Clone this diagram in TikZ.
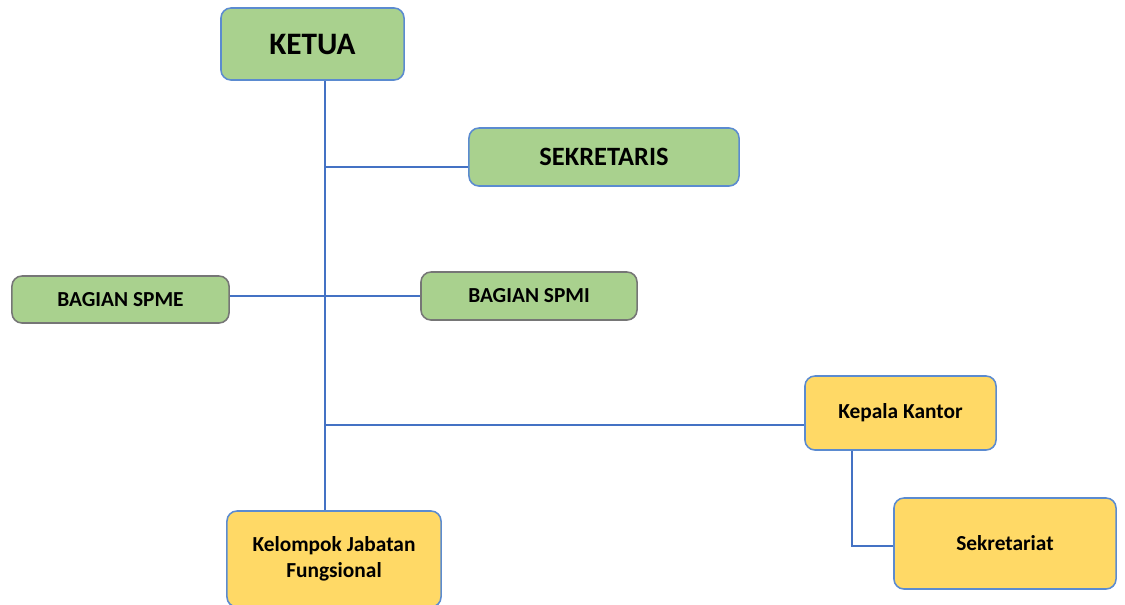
\documentclass[tikz,border=0pt]{standalone}
\usepackage{fontspec}
\setmainfont{Carlito}
\usetikzlibrary{positioning}
\definecolor{boxgreen}{HTML}{A9D18E}
\definecolor{boxyellow}{HTML}{FFD966}
\definecolor{edgeblue}{HTML}{5B8BD0}
\definecolor{linkblue}{HTML}{4472C4}
\definecolor{edgegray}{HTML}{767676}

\begin{document}
\begin{tikzpicture}[x=0.025cm, y=-0.025cm,
    unit/.style={draw=edgeblue, line width=1.1pt, rounded corners=0.25cm, align=center, font=\bfseries\fontsize{15.2}{18.5}\selectfont},
    greenbox/.style={unit, fill=boxgreen},
    graybox/.style={greenbox, draw=edgegray},
    yellowbox/.style={unit, fill=boxyellow},
    link/.style={draw=linkblue, line width=1.4pt}]
        \clip (0,0) rectangle (1125,605);
        \coordinate (tx) at (325,0);
        \node (ketua) [greenbox, minimum width=4.575cm, minimum height=1.8cm, font=\bfseries\fontsize{22.2}{26}\selectfont] at (312.5,44) {KETUA};
        \node (sek) [greenbox, minimum width=6.75cm, minimum height=1.45cm, font=\bfseries\fontsize{18.8}{22}\selectfont] at (604,157) {SEKRETARIS};
        \node (spme) [graybox, minimum width=5.425cm, minimum height=1.175cm] at (120.5,299.5) {BAGIAN SPME};
        \node (spmi) [graybox, minimum width=5.4cm, minimum height=1.2cm] at (529,296) {BAGIAN SPMI};
        \node (kk) [yellowbox, minimum width=4.775cm, minimum height=1.85cm] at (900.5,413) {Kepala Kantor};
        \node (sekr) [yellowbox, minimum width=5.55cm, minimum height=2.275cm] at (1005,543.5) {Sekretariat};
        \node (kjf) [yellowbox, minimum width=5.35cm, minimum height=2.4cm] at (334,559) {Kelompok Jabatan\\Fungsional};
        \draw[link] (ketua.south -| tx) -- (kjf.north -| tx);
        \draw[link] (tx |- 0,167) -- (sek.west |- 0,167);
        \draw[link] (spme.east |- spmi.west) -- (spmi.west);
        \draw[link] (tx |- 0,425) -- (kk.west |- 0,425);
        \draw[link] (kk.south -| 852,0) |- (sekr.west |- 0,546);
    \end{tikzpicture}
\end{document}
